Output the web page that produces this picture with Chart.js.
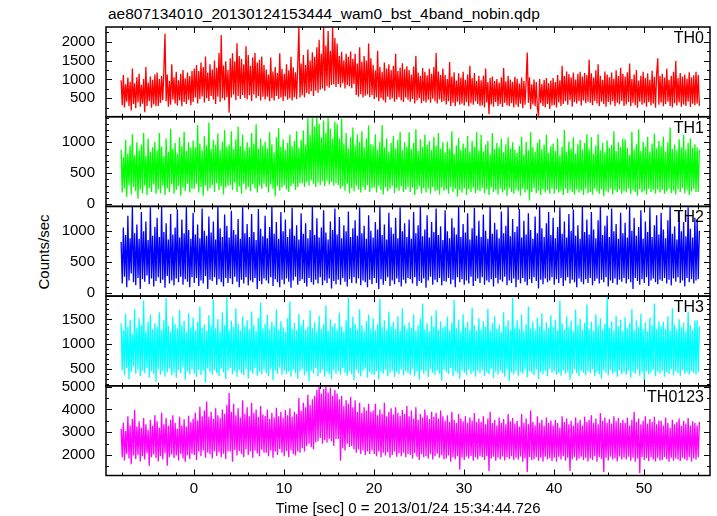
<!DOCTYPE html>
<html>
<head>
<meta charset="utf-8">
<script src="https://cdn.jsdelivr.net/npm/chart.js@4"></script>
<style>
  body { margin: 0; background: #fff; }
  #wrap { position: relative; width: 717px; height: 516px; background: #fff; overflow: hidden;
          font-family: 'Liberation Sans', Arial, Helvetica, sans-serif; color: #000; }
  #wrap canvas { position: absolute; left: 0; }
  #title { position: absolute; left: 108px; top: 6px; font-size: 15.5px; line-height: 15px; white-space: nowrap; }
  #ylab { position: absolute; left: 43px; top: 252px; font-size: 15px; line-height: 15px; white-space: nowrap;
          transform: translate(-50%, -50%) rotate(-90deg); }
</style>
</head>
<body>
<div id="wrap">
  <div id="title">ae807134010_20130124153444_wam0_bst_4band_nobin.qdp</div>
  <div id="ylab">Counts/sec</div>
</div>
<script>
// light curve bins: 0.125 s, first bin at -8.1 s (one row = 4 s)
const t0 = -8.1, dt = 0.125;

const th0 = [
  980, 320, 1120, 260, 870, 410, 1050, 300, 940, 180, 1290, 350, 900, 240, 1060, 390, 1150, 280, 860, 360, 1010, 130, 1330, 300, 920, 420, 1080, 250, 990, 340, 1130, 290,
  1180, 300, 1010, 380, 1090, 450, 1240, 2210, 420, 1130, 280, 960, 330, 1400, 470, 1060, 360, 1200, 310, 980, 440, 1150, 290, 1250, 400, 1030, 350, 1180, 460, 1090, 320, 1220,
  400, 1290, 520, 1380, 360, 1220, 480, 1450, 550, 1330, 390, 1610, 500, 1180, 430, 1400, 560, 1260, 470, 1500, 350, 1310, 540, 1700, 410, 2180, 500, 1370, 450, 1480, 530, 1250,
  120, 1560, 520, 1690, 600, 1480, 450, 1960, 560, 1620, 480, 1540, 590, 1400, 510, 1880, 470, 1650, 580, 1360, 430, 1590, 600, 1700, 500, 1450, 560, 1520, 440, 1610, 540, 1380,
  470, 1260, 540, 1130, 420, 1580, 500, 1210, 440, 1330, 560, 1170, 480, 1690, 520, 1280, 430, 1150, 550, 1400, 460, 1240, 500, 1600, 440, 1320, 530, 1190, 480, 1380, 2380, 520,
  1420, 580, 1650, 520, 1380, 640, 1790, 610, 1500, 690, 1720, 560, 1600, 700, 1850, 650, 2050, 730, 1680, 760, 2380, 700, 1900, 820, 2280, 780, 1760, 850, 2380, 870, 2100, 800,
  1950, 880, 1620, 790, 1730, 900, 1510, 760, 1680, 850, 1600, 820, 1740, 770, 1550, 880, 1680, 590, 1420, 540, 1850, 610, 1470, 520, 1620, 570, 1500, 600, 1950, 530, 1560, 590,
  1380, 480, 1240, 530, 1760, 420, 1330, 510, 1200, 450, 1450, 390, 1290, 540, 1400, 460, 1250, 500, 1360, 410, 1680, 470, 1220, 530, 1310, 440, 1430, 400, 1270, 520, 1350, 460,
  1250, 410, 1130, 480, 1340, 360, 1620, 440, 1180, 500, 1090, 370, 1300, 430, 1200, 390, 1110, 460, 1280, 380, 1150, 490, 1330, 420, 1700, 360, 1210, 470, 1120, 400, 1290, 430,
  1120, 340, 1010, 420, 1460, 300, 1080, 380, 1190, 290, 970, 410, 1160, 330, 1050, 360, 1200, 310, 990, 400, 1130, 290, 1360, 370, 1040, 330, 1170, 420, 960, 350, 1100, 300,
  980, 310, 1100, 260, 1290, 390, 930, 80, 1040, 340, 1080, 280, 960, 400, 1010, 300, 920, 350, 1060, 270, 1300, 380, 950, 320, 1090, 290, 1000, 370, 940, 260, 1070, 330,
  1020, 270, 890, 360, 1050, 240, 960, 330, 940, 1710, 380, 1060, 210, 870, 340, 1000, 290, 930, 250, 30, 1010, 370, 880, 300, 990, 260, 1040, 350, 900, 220, 970, 310,
  1040, 320, 930, 260, 1120, 390, 980, 300, 1360, 350, 1090, 420, 1210, 330, 1140, 450, 1060, 280, 1180, 400, 1000, 360, 1150, 430, 1200, 310, 1080, 440, 1170, 370, 1120, 410,
  1520, 380, 1160, 320, 1050, 430, 1240, 360, 1400, 300, 1100, 410, 990, 350, 1210, 280, 1130, 400, 1060, 330, 1180, 420, 1020, 290, 1240, 380, 1090, 340, 1310, 430, 1150, 300,
  1080, 340, 1190, 400, 1420, 290, 1010, 380, 1130, 320, 1250, 250, 970, 410, 1100, 330, 1200, 370, 1040, 280, 1160, 400, 990, 310, 1230, 360, 1070, 250, 1140, 1560, 330, 1090,
  380, 1150, 290, 1050, 350, 1280, 410, 990, 300, 1100, 260, 1200, 370, 1490, 310, 1040, 390, 1170, 280, 1080, 340, 1130, 300, 1020, 410, 1190, 270, 1060, 360, 1110, 320, 1200,
  360, 1120, 300
];
const th1 = [
  880, 190, 760, 250, 1040, 120, 820, 310, 950, 160, 1130, 280, 790, 210, 1000, 90, 870, 240, 960, 180, 1150, 300, 780, 150, 1060, 260, 850, 200, 920, 320, 1010, 170,
  870, 240, 1150, 180, 930, 300, 780, 150, 1060, 260, 850, 200, 1220, 320, 900, 170, 990, 230, 820, 290, 1080, 140, 940, 270, 1170, 210, 860, 330, 1000, 190, 910, 250,
  1030, 250, 920, 330, 1280, 190, 980, 280, 870, 140, 1100, 300, 950, 220, 1320, 260, 890, 310, 1040, 200, 960, 340, 1140, 230, 880, 290, 1010, 160, 1200, 270, 930, 300,
  960, 310, 1180, 230, 890, 350, 1050, 200, 1250, 290, 940, 170, 1120, 330, 870, 240, 1000, 280, 920, 210, 1150, 320, 980, 260, 1290, 190, 900, 300, 1060, 250, 950, 330,
  1010, 280, 900, 190, 1160, 320, 970, 250, 840, 130, 1080, 300, 1230, 220, 930, 270, 1050, 310, 880, 240, 990, 200, 1120, 290, 940, 330, 1020, 230, 1180, 280, 910, 340,
  1040, 340, 1190, 280, 960, 360, 1390, 300, 1120, 390, 1400, 330, 1260, 280, 1410, 350, 1300, 310, 1080, 370, 1350, 290, 1150, 380, 1410, 320, 1220, 360, 1060, 300, 1330, 340,
  1300, 310, 1060, 250, 1380, 290, 980, 220, 1150, 330, 900, 180, 1090, 260, 1240, 210, 950, 300, 1120, 240, 1010, 190, 1180, 280, 920, 230, 1060, 310, 1270, 200, 970, 260,
  950, 270, 1130, 190, 880, 300, 1010, 230, 1280, 160, 920, 280, 1060, 210, 850, 250, 990, 300, 1100, 180, 900, 260, 1040, 220, 1170, 290, 870, 200, 1000, 240, 930, 280,
  1160, 200, 890, 270, 990, 150, 1210, 240, 860, 290, 1050, 180, 930, 260, 1120, 190, 960, 250, 1020, 170, 880, 280, 1090, 210, 940, 230, 1150, 160, 900, 270, 1000, 220,
  840, 240, 1010, 170, 900, 280, 1180, 200, 820, 250, 950, 120, 1070, 230, 880, 190, 980, 260, 910, 150, 1100, 240, 850, 200, 1020, 270, 930, 180, 1160, 230, 870, 210,
  1120, 260, 850, 180, 960, 240, 1020, 150, 810, 270, 1150, 200, 890, 230, 990, 160, 920, 250, 1060, 190, 840, 230, 970, 140, 1080, 260, 900, 200, 1000, 170, 880, 240,
  830, 210, 940, 140, 1090, 250, 800, 190, 1010, 230, 870, 60, 1160, 200, 920, 260, 850, 180, 990, 220, 1050, 150, 890, 240, 960, 190, 1120, 230, 830, 170, 940, 250,
  980, 170, 860, 240, 1060, 190, 790, 220, 930, 150, 1200, 250, 850, 180, 1010, 230, 900, 200, 1080, 160, 820, 240, 970, 190, 1040, 220, 880, 150, 990, 250, 1130, 180,
  890, 200, 1080, 160, 820, 250, 950, 210, 1130, 170, 870, 240, 990, 130, 840, 220, 1030, 190, 910, 250, 960, 160, 1180, 230, 860, 200, 1000, 240, 920, 170, 1060, 210,
  1050, 190, 910, 250, 800, 170, 1170, 230, 880, 200, 970, 140, 1210, 240, 860, 190, 1010, 220, 930, 160, 1090, 250, 850, 200, 980, 230, 1140, 170, 900, 240, 1020, 190,
  940, 230, 1090, 170, 850, 210, 1000, 250, 1240, 180, 890, 220, 960, 160, 870, 240, 1050, 200, 920, 260, 1120, 180, 880, 230, 990, 150, 1060, 210, 910, 250, 970, 200,
  920, 200, 880
];
const th2 = [
  820, 150, 1050, 260, 930, 90, 1240, 200, 880, 310, 1390, 170, 960, 120, 1100, 240, 870, 60, 1300, 220, 990, 180, 1150, 280, 850, 140, 1380, 230, 920, 100, 1060, 190,
  1210, 250, 900, 160, 1390, 210, 980, 80, 1120, 270, 860, 150, 1270, 200, 940, 120, 1050, 230, 1340, 170, 890, 260, 1180, 130, 960, 220, 1390, 180, 1010, 90, 870, 250,
  1290, 160, 940, 240, 1100, 110, 880, 200, 1360, 150, 1000, 270, 920, 60, 1230, 210, 970, 190, 1150, 250, 860, 130, 1390, 220, 1040, 170, 900, 100, 1260, 240, 1080, 160,
  890, 230, 1320, 140, 1010, 260, 940, 180, 1190, 90, 870, 210, 1380, 150, 960, 250, 1110, 120, 900, 200, 1270, 170, 980, 240, 850, 60, 1350, 190, 1030, 140, 910, 230,
  1240, 200, 880, 150, 1060, 250, 1390, 110, 950, 220, 1140, 170, 870, 90, 1300, 210, 990, 140, 1180, 230, 900, 180, 1030, 80, 1370, 200, 920, 260, 1090, 130, 860, 190,
  1280, 220, 950, 160, 1120, 100, 880, 240, 1010, 170, 1390, 130, 930, 210, 1200, 150, 890, 250, 1050, 120, 1330, 200, 970, 160, 860, 230, 1150, 70, 1010, 190, 1360, 140,
  940, 210, 1220, 130, 880, 240, 1090, 180, 990, 100, 1310, 220, 900, 160, 1040, 250, 1170, 150, 920, 230, 1380, 120, 960, 200, 1080, 170, 870, 90, 1250, 210, 1000, 140,
  890, 240, 1140, 160, 1020, 60, 1390, 220, 930, 130, 1100, 190, 860, 250, 1290, 110, 1050, 200, 950, 140, 1210, 230, 880, 170, 1380, 100, 990, 210, 1120, 150, 900, 240,
  1180, 220, 870, 150, 1300, 250, 960, 110, 1090, 190, 1390, 160, 910, 230, 1020, 80, 1250, 200, 890, 260, 1140, 130, 980, 210, 1360, 170, 930, 240, 1070, 120, 850, 190,
  1330, 180, 990, 240, 880, 140, 1200, 210, 1050, 90, 940, 250, 1390, 170, 900, 220, 1110, 130, 970, 200, 1280, 150, 860, 260, 1040, 110, 1370, 190, 920, 230, 1160, 160,
  900, 250, 1260, 130, 1000, 200, 870, 170, 1390, 220, 950, 100, 1130, 240, 1020, 150, 880, 210, 1310, 180, 960, 260, 1080, 120, 1390, 200, 910, 160, 1190, 230, 980, 90,
  1070, 210, 1350, 150, 890, 240, 1160, 180, 940, 120, 1280, 220, 1010, 160, 870, 250, 1230, 190, 960, 70, 1390, 210, 1040, 140, 900, 230, 1120, 170, 1300, 200, 930, 250,
  1210, 130, 880, 220, 1060, 160, 1380, 240, 950, 110, 1150, 200, 890, 250, 1270, 150, 1000, 210, 1340, 170, 920, 90, 1090, 230, 870, 180, 1390, 140, 980, 220, 1180, 160,
  940, 240, 1300, 120, 1020, 190, 880, 230, 1170, 150, 1390, 210, 930, 170, 1080, 250, 1240, 100, 900, 200, 1360, 160, 990, 230, 1110, 130, 870, 210, 1290, 180, 960, 240,
  1130, 150, 890, 220, 1390, 170, 1000, 60, 1210, 240, 920, 190, 1060, 130, 1330, 220, 870, 160, 1150, 250, 980, 110, 1380, 200, 900, 230, 1090, 170, 1250, 140, 940, 210,
  1290, 190, 1020, 240, 880, 150, 1170, 210, 1390, 120, 950, 230, 1070, 180, 860, 250, 1320, 160, 990, 200, 1140, 100, 910, 240, 1380, 170, 1030, 220, 890, 150, 1210, 200,
  1180, 220, 1000
];
const th3 = [
  1420, 480, 1280, 380, 1610, 520, 1350, 300, 1490, 450, 1200, 560, 1700, 410, 1330, 490, 1520, 360, 1390, 470, 1880, 420, 1260, 530, 1450, 330, 1590, 460, 1300, 400, 1420, 250,
  1350, 500, 1640, 390, 1290, 470, 1480, 350, 1930, 440, 1370, 510, 1260, 380, 1550, 430, 1400, 330, 1310, 480, 1690, 420, 1380, 550, 1470, 290, 1250, 460, 1620, 400, 1340, 500,
  1530, 410, 1280, 350, 1450, 490, 1760, 380, 1330, 470, 1400, 230, 1270, 520, 1580, 440, 1370, 390, 1900, 480, 1320, 420, 1500, 360, 1260, 510, 1640, 440, 1380, 300, 1950, 470,
  1290, 520, 1470, 400, 1340, 460, 1720, 350, 1410, 490, 1280, 420, 1560, 380, 1360, 500, 1480, 310, 1300, 460, 1650, 410, 1390, 520, 1270, 370, 1530, 450, 1840, 400, 1320, 480,
  1410, 420, 1590, 360, 1300, 500, 1450, 280, 1370, 470, 1700, 410, 1290, 530, 1460, 390, 1340, 470, 1250, 400, 1520, 450, 1860, 350, 1310, 490, 1430, 420, 1280, 310, 1610, 460,
  1380, 500, 1490, 380, 1290, 440, 1350, 260, 1680, 470, 1320, 410, 1440, 520, 1270, 360, 1570, 430, 1310, 490, 1400, 350, 1780, 450, 1280, 400, 1500, 300, 1360, 480, 1420, 410,
  1290, 460, 1630, 390, 1350, 520, 1260, 430, 1480, 370, 1940, 460, 1330, 400, 1550, 280, 1410, 490, 1300, 420, 1700, 360, 1380, 470, 1270, 510, 1460, 330, 1590, 440, 1310, 400,
  1520, 380, 1280, 460, 1400, 300, 1920, 450, 1340, 410, 1480, 490, 1290, 360, 1650, 430, 1360, 470, 1450, 350, 1310, 440, 1560, 400, 1280, 500, 1720, 380, 1390, 460, 1300, 420,
  1440, 390, 1330, 510, 1600, 370, 1270, 450, 1380, 290, 1510, 480, 1820, 410, 1300, 460, 1420, 350, 1260, 500, 1570, 430, 1350, 390, 1680, 470, 1290, 410, 1460, 270, 1330, 490,
  1370, 440, 1550, 400, 1280, 520, 1430, 360, 1890, 460, 1320, 420, 1490, 310, 1260, 480, 1600, 430, 1340, 380, 1450, 500, 1290, 410, 1740, 450, 1380, 350, 1270, 470, 1520, 420,
  1300, 480, 1460, 360, 1350, 440, 1710, 400, 1280, 510, 1420, 330, 1560, 450, 1310, 390, 1390, 470, 1250, 420, 1640, 350, 1360, 490, 1480, 260, 1290, 440, 1930, 400, 1340, 460,
  1480, 370, 1310, 450, 1590, 410, 1270, 500, 1400, 340, 1760, 460, 1320, 420, 1450, 380, 1280, 490, 1530, 300, 1360, 440, 1620, 400, 1290, 470, 1440, 360, 1330, 510, 1580, 430,
  1350, 460, 1490, 390, 1280, 430, 1880, 370, 1420, 480, 1300, 410, 1560, 450, 1340, 290, 1470, 400, 1260, 500, 1690, 420, 1380, 360, 1510, 470, 1290, 430, 1430, 380, 1800, 450,
  1310, 420, 1450, 500, 1270, 360, 1600, 440, 1380, 400, 1520, 310, 1300, 470, 1410, 430, 1950, 380, 1330, 490, 1460, 410, 1280, 450, 1570, 350, 1360, 480, 1490, 400, 1270, 440,
  1540, 390, 1320, 470, 1420, 330, 1700, 450, 1290, 410, 1480, 500, 1350, 370, 1610, 440, 1300, 280, 1440, 460, 1260, 400, 1530, 430, 1380, 490, 1820, 360, 1310, 450, 1460, 410,
  1360, 470, 1450, 350, 1310, 440, 1560, 400, 1280, 500, 1720, 380, 1390, 460, 1300, 420, 1500, 370, 1340, 480, 1430, 410, 1270, 440, 1650, 390, 1380, 460, 1290, 430, 1470, 400,
  1480, 440, 1350
];
const th0123 = [
  3150, 1900, 3420, 1760, 3050, 2050, 3700, 1850, 3300, 1600, 3580, 1980, 3980, 1820, 3250, 2000, 3480, 1720, 3200, 1950, 3620, 1800, 3350, 2080, 3100, 1530, 3550, 1900, 3280, 2020, 3750, 1870,
  3480, 1720, 3200, 1950, 3860, 1800, 3350, 2080, 3620, 1530, 3280, 1900, 3550, 2020, 3750, 1870, 3400, 1980, 3150, 1760, 3680, 2050, 3300, 1850, 3570, 1700, 3250, 1990, 3720, 1830, 3450, 2060,
  3600, 2000, 3850, 1780, 3520, 2150, 4120, 1950, 3700, 2200, 3950, 1880, 4350, 2100, 3680, 2030, 3900, 1850, 3580, 2170, 4050, 1960, 3750, 2120, 3620, 1900, 4000, 2060, 3800, 1820, 4200, 2150,
  4720, 2150, 3900, 1700, 4250, 2220, 3750, 1980, 4050, 2180, 3650, 2050, 4400, 1900, 3800, 2250, 4100, 2000, 3700, 2150, 4300, 1880, 3850, 2200, 4000, 2070, 3680, 1950, 4150, 2230, 3780, 2100,
  3720, 2100, 4000, 1950, 3580, 2200, 3850, 1880, 3650, 2150, 4080, 2000, 3700, 2250, 3900, 2100, 3620, 1950, 3980, 2180, 3750, 1900, 4050, 2220, 3680, 2050, 3900, 1980, 3800, 2150, 4500, 2100,
  3950, 2300, 4300, 2150, 4100, 2400, 4650, 2500, 4200, 2350, 4450, 2250, 4600, 2550, 4850, 2600, 5020, 2750, 4700, 2500, 4900, 2650, 5020, 2550, 4750, 2700, 4950, 2600, 4600, 2400, 4850, 2700,
  4700, 2700, 4450, 1750, 4600, 2300, 4150, 2200, 4400, 2500, 4250, 2350, 4550, 2400, 4100, 2250, 4400, 2100, 3900, 2250, 4300, 2050, 3850, 2200, 4100, 2000, 3950, 2150, 4250, 2050, 3900, 2200,
  3950, 2050, 4250, 1950, 3750, 2150, 4000, 1900, 3800, 2100, 4300, 1980, 3700, 2120, 3900, 1880, 4050, 2000, 3780, 2150, 4100, 1920, 3850, 2080, 3720, 1950, 3980, 2100, 3800, 1900, 4150, 2050,
  3700, 2000, 3950, 1850, 3600, 2080, 4100, 1920, 3550, 1780, 3800, 2030, 3650, 1900, 4000, 1960, 3750, 1850, 3580, 2050, 3900, 1800, 3680, 1950, 3850, 2060, 3600, 1880, 3950, 1990, 3700, 1820,
  3500, 1850, 3750, 1980, 3450, 1700, 3900, 1900, 3550, 1820, 3400, 1950, 3800, 1350, 3600, 1880, 3480, 1780, 3700, 1920, 3420, 1850, 3650, 1960, 3520, 1750, 3850, 1900, 3450, 1820, 3600, 1950,
  3450, 1900, 3700, 1780, 3350, 1950, 3600, 1300, 3900, 1850, 3400, 1920, 3550, 1750, 3300, 1880, 3650, 1800, 3420, 1930, 3580, 1760, 3350, 1900, 3800, 1820, 3480, 1950, 3620, 1780, 3380, 1880,
  3500, 1800, 3250, 1930, 3800, 1700, 3400, 1850, 3600, 1250, 3350, 1900, 3950, 1780, 3450, 1820, 3300, 1900, 3700, 1750, 3420, 1880, 3550, 1720, 3280, 1920, 3650, 1800, 3400, 1860, 3520, 1740,
  3300, 1880, 3550, 1700, 3400, 1920, 3200, 1800, 3700, 1950, 3450, 1750, 3600, 1880, 3350, 1300, 3500, 1820, 3280, 1900, 3650, 1760, 3420, 1850, 3550, 1930, 3300, 1780, 3680, 1880, 3450, 1720,
  3550, 1850, 3750, 1780, 3400, 1950, 3600, 1700, 3350, 1900, 3850, 1820, 3500, 1250, 3650, 1880, 3420, 1760, 3580, 1920, 3380, 1800, 3700, 1860, 3480, 1720, 3620, 1940, 3400, 1800, 3550, 1880,
  3400, 1800, 3650, 1920, 3300, 1750, 3550, 1880, 3900, 1700, 3450, 1850, 3600, 1200, 3350, 1900, 3500, 1780, 3700, 1860, 3380, 1740, 3580, 1900, 3450, 1800, 3680, 1720, 3350, 1880, 3520, 1760,
  3500, 1780, 3300, 1900, 3650, 1820, 3400, 1700, 3200, 1880, 3550, 1750, 3350, 1850, 3450, 1800, 3600, 1740, 3280, 1880, 3500, 1820, 3380, 1760, 3620, 1900, 3300, 1720, 3480, 1850, 3400, 1800,
  3300, 1900, 3450
];

const bands = ['TH0', 'TH1', 'TH2', 'TH3', 'TH0123'];
const series = [th0, th1, th2, th3, th0123];
const colors = ['#ff0000', '#00ff00', '#0000ff', '#00ffff', '#ff00ff'];
const yMin = [13, -34, -53, 170, 1100];
const yMax = [2389, 1413, 1392, 1966, 5040];
const yTicks = [[500, 1000, 1500, 2000], [0, 500, 1000], [0, 500, 1000], [500, 1000, 1500], [2000, 3000, 4000, 5000]];
const yMinor = [250, 100, 100, 100, 500];
const xTicks = [0, 10, 20, 30, 40, 50];
const xMin = -9.78, xMax = 57.33;
const xTitle = 'Time [sec] 0 = 2013/01/24 15:34:44.726';

// page layout (px)
const W = 717, H = 516, LEFT = 106, RIGHT = 710;
const edges = [27, 116.7, 206.4, 296.1, 385.8, 475.5];
const font = { family: "'Liberation Sans', Arial, Helvetica, sans-serif", size: 15 };

// frame, inward ticks and panel label, qdp style
const frame = {
  id: 'frame',
  afterDraw(chart, args, o) {
    const { ctx, chartArea: a } = chart;
    const x = chart.scales.x, y = chart.scales.y;
    ctx.save();
    ctx.strokeStyle = '#000';
    ctx.lineWidth = 1;
    ctx.beginPath();
    for (let v = -8; v <= x.max; v += 2) {
      const px = Math.round(x.getPixelForValue(v)) + 0.5;
      const len = v % 10 === 0 ? 6 : 3;
      ctx.moveTo(px, a.top); ctx.lineTo(px, a.top + len);
      ctx.moveTo(px, a.bottom); ctx.lineTo(px, a.bottom - len);
    }
    for (let v = Math.ceil(y.min / o.minor) * o.minor; v <= y.max; v += o.minor) {
      const py = Math.round(y.getPixelForValue(v)) + 0.5;
      const len = o.major.includes(v) ? 6 : 3;
      ctx.moveTo(a.left, py); ctx.lineTo(a.left + len, py);
      ctx.moveTo(a.right, py); ctx.lineTo(a.right - len, py);
    }
    ctx.stroke();
    ctx.lineWidth = 1.5;
    ctx.strokeRect(a.left, a.top, a.right - a.left, a.bottom - a.top);
    ctx.fillStyle = '#000';
    ctx.font = "16px 'Liberation Sans', Arial, sans-serif";
    ctx.textAlign = 'right';
    ctx.fillText(o.label, a.right - 6, a.top + 16);
    ctx.restore();
  }
};

const wrap = document.getElementById('wrap');

series.forEach((vals, i) => {
  const last = i === series.length - 1;
  const top = edges[i], bottom = edges[i + 1];
  const cTop = Math.floor(top) - 10;
  const cBot = last ? H : Math.ceil(bottom) + 10;
  const cv = document.createElement('canvas');
  cv.width = W;
  cv.height = cBot - cTop;
  cv.style.top = cTop + 'px';
  wrap.appendChild(cv);

  new Chart(cv, {
    type: 'line',
    data: {
      datasets: [{
        data: vals.map((v, k) => ({ x: t0 + k * dt, y: v })),
        borderColor: colors[i],
        borderWidth: 1.3,
        pointRadius: 0,
        tension: 0
      }]
    },
    options: {
      responsive: false,
      animation: false,
      devicePixelRatio: 1,
      layout: { padding: { left: 0, right: W - RIGHT, top: top - cTop, bottom: last ? 0 : cBot - bottom } },
      plugins: {
        legend: { display: false },
        tooltip: { enabled: false },
        frame: { label: bands[i], major: yTicks[i], minor: yMinor[i] }
      },
      scales: {
        x: {
          type: 'linear',
          min: xMin,
          max: xMax,
          display: last,
          afterBuildTicks: s => { s.ticks = xTicks.map(v => ({ value: v })); },
          afterFit: s => {
            s.height = last ? H - edges[5] : 0;
            s.paddingLeft = 0; s.paddingRight = 0;
          },
          grid: { display: false, drawTicks: false },
          border: { display: false },
          ticks: { font, color: '#000', padding: 4, maxRotation: 0, autoSkip: false, callback: v => String(v) },
          title: { display: true, text: xTitle, color: '#000', padding: 0, font: { ...font, lineHeight: 1 } }
        },
        y: {
          min: yMin[i],
          max: yMax[i],
          afterBuildTicks: s => { s.ticks = yTicks[i].map(v => ({ value: v })); },
          afterFit: s => {
            s.width = LEFT;
            s.paddingTop = 0; s.paddingBottom = 0;
          },
          grid: { display: false, drawTicks: false },
          border: { display: false },
          ticks: { font, color: '#000', padding: 11, callback: v => String(v) }
        }
      }
    },
    plugins: [frame]
  });
});
</script>
</body>
</html>
